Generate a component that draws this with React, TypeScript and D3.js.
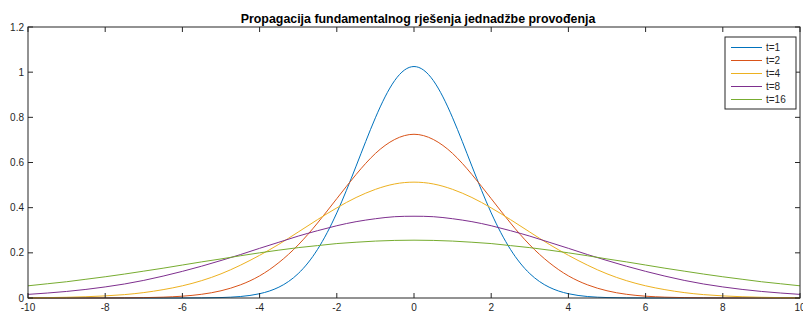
import React from 'react';
import * as d3 from 'd3';

// sample positions (x) and values
const xs = [
  -10, -9.5, -9, -8.5, -8, -7.5, -7, -6.5, -6, -5.5, -5, -4.5, -4, -3.5, -3, -2.5, -2, -1.5, -1, -0.5, 0,
  0.5, 1, 1.5, 2, 2.5, 3, 3.5, 4, 4.5, 5, 5.5, 6, 6.5, 7, 7.5, 8, 8.5, 9, 9.5, 10
];

const t1 = [
  0, 0, 0, 0, 0, 0, 0, 0, 0.0001, 0.0005, 0.002, 0.0065, 0.019, 0.048, 0.108, 0.215, 0.377, 0.584, 0.798, 0.963, 1.025,
  0.963, 0.798, 0.584, 0.377, 0.215, 0.108, 0.048, 0.019, 0.0065, 0.002, 0.0005, 0.0001, 0, 0, 0, 0, 0, 0, 0, 0
];
const t2 = [
  0, 0, 0, 0.0001, 0.0002, 0.0006, 0.0016, 0.0037, 0.008, 0.0165, 0.032, 0.058, 0.098, 0.157, 0.235, 0.332, 0.44, 0.547, 0.64, 0.702, 0.725,
  0.702, 0.64, 0.547, 0.44, 0.332, 0.235, 0.157, 0.098, 0.058, 0.032, 0.0165, 0.008, 0.0037, 0.0016, 0.0006, 0.0002, 0.0001, 0, 0, 0
];
const t4 = [
  0.001, 0.0018, 0.0032, 0.0056, 0.0094, 0.015, 0.024, 0.037, 0.054, 0.077, 0.107, 0.145, 0.189, 0.238, 0.292, 0.347, 0.399, 0.445, 0.481, 0.505, 0.513,
  0.505, 0.481, 0.445, 0.399, 0.347, 0.292, 0.238, 0.189, 0.145, 0.107, 0.077, 0.054, 0.037, 0.024, 0.015, 0.0094, 0.0056, 0.0032, 0.0018, 0.001
];
const t8 = [
  0.016, 0.022, 0.029, 0.038, 0.049, 0.062, 0.078, 0.097, 0.118, 0.141, 0.166, 0.192, 0.22, 0.247, 0.274, 0.298, 0.32, 0.338, 0.351, 0.36, 0.362,
  0.36, 0.351, 0.338, 0.32, 0.298, 0.274, 0.247, 0.22, 0.192, 0.166, 0.141, 0.118, 0.097, 0.078, 0.062, 0.049, 0.038, 0.029, 0.022, 0.016
];
const t16 = [
  0.054, 0.063, 0.072, 0.083, 0.094, 0.106, 0.119, 0.132, 0.146, 0.16, 0.173, 0.187, 0.2, 0.212, 0.223, 0.232, 0.241, 0.247, 0.252, 0.255, 0.256,
  0.255, 0.252, 0.247, 0.241, 0.232, 0.223, 0.212, 0.2, 0.187, 0.173, 0.16, 0.146, 0.132, 0.119, 0.106, 0.094, 0.083, 0.072, 0.063, 0.054
];

const seriesNames = ['t=1', 't=2', 't=4', 't=8', 't=16'];
const seriesValues = [t1, t2, t4, t8, t16];
const seriesColors = ['#0072BD', '#D95319', '#EDB120', '#7E2F8E', '#77AC30'];

const xTicks = [-10, -8, -6, -4, -2, 0, 2, 4, 6, 8, 10];
const yTicks = [0, 0.2, 0.4, 0.6, 0.8, 1, 1.2];

const title = 'Propagacija fundamentalnog rješenja jednadžbe provođenja';

const W = 803, H = 313;
const margin = { left: 28, right: 3, top: 27, bottom: 15 };
const axisColor = '#262626';
const font = '"Liberation Sans", Arial, Helvetica, sans-serif';

export default function App() {
  const xScale = d3.scaleLinear().domain([-10, 10]).range([margin.left, W - margin.right]);
  const yScale = d3.scaleLinear().domain([0, 1.2]).range([H - margin.bottom, margin.top]);
  const line = d3
    .line<number>()
    .x((d, i) => xScale(xs[i]))
    .y(d => yScale(d))
    .curve(d3.curveNatural);

  const x0 = xScale(-10), x1 = xScale(10), y0 = yScale(0), y1 = yScale(1.2);
  const tick = 5;

  // legend box
  const lg = { x: 725, y: 37, w: 71, h: 72 };
  const rowH = 13;

  return (
    <svg width={W} height={H} style={{ position: 'absolute', left: 0, top: 0, background: '#fff' }}>
      <rect x={0} y={0} width={W} height={H} fill="#fff" />
      {seriesValues.map((vals, i) => (
        <path key={i} d={line(vals) || ''} fill="none" stroke={seriesColors[i]} strokeWidth={1} />
      ))}
      {/* box */}
      <rect x={x0} y={y1} width={x1 - x0} height={y0 - y1} fill="none" stroke={axisColor} strokeWidth={1} />
      {xTicks.map(t => (
        <g key={'x' + t}>
          <line x1={xScale(t)} x2={xScale(t)} y1={y0} y2={y0 - tick} stroke={axisColor} />
          <line x1={xScale(t)} x2={xScale(t)} y1={y1} y2={y1 + tick} stroke={axisColor} />
          <text x={xScale(t)} y={y0 + 13} fontSize={10} fill={axisColor} textAnchor="middle" fontFamily={font}>
            {t}
          </text>
        </g>
      ))}
      {yTicks.map(t => (
        <g key={'y' + t}>
          <line x1={x0} x2={x0 + tick} y1={yScale(t)} y2={yScale(t)} stroke={axisColor} />
          <line x1={x1} x2={x1 - tick} y1={yScale(t)} y2={yScale(t)} stroke={axisColor} />
          <text x={x0 - 4} y={yScale(t) + 3.5} fontSize={10} fill={axisColor} textAnchor="end" fontFamily={font}>
            {t}
          </text>
        </g>
      ))}
      <text x={(x0 + x1) / 2 + 4} y={y1 - 4} fontSize={12.4} fontWeight="bold" fill="#000" textAnchor="middle" fontFamily={font}>
        {title}
      </text>
      {/* legend */}
      <rect x={lg.x} y={lg.y} width={lg.w} height={lg.h} fill="#fff" stroke={axisColor} strokeWidth={1} />
      {seriesNames.map((name, i) => {
        const yy = lg.y + 10.5 + i * rowH;
        return (
          <g key={name}>
            <line x1={lg.x + 6} x2={lg.x + 37} y1={yy} y2={yy} stroke={seriesColors[i]} strokeWidth={1} />
            <text x={lg.x + 41} y={yy + 3.5} fontSize={10} fill={axisColor} fontFamily={font}>
              {name}
            </text>
          </g>
        );
      })}
    </svg>
  );
}
